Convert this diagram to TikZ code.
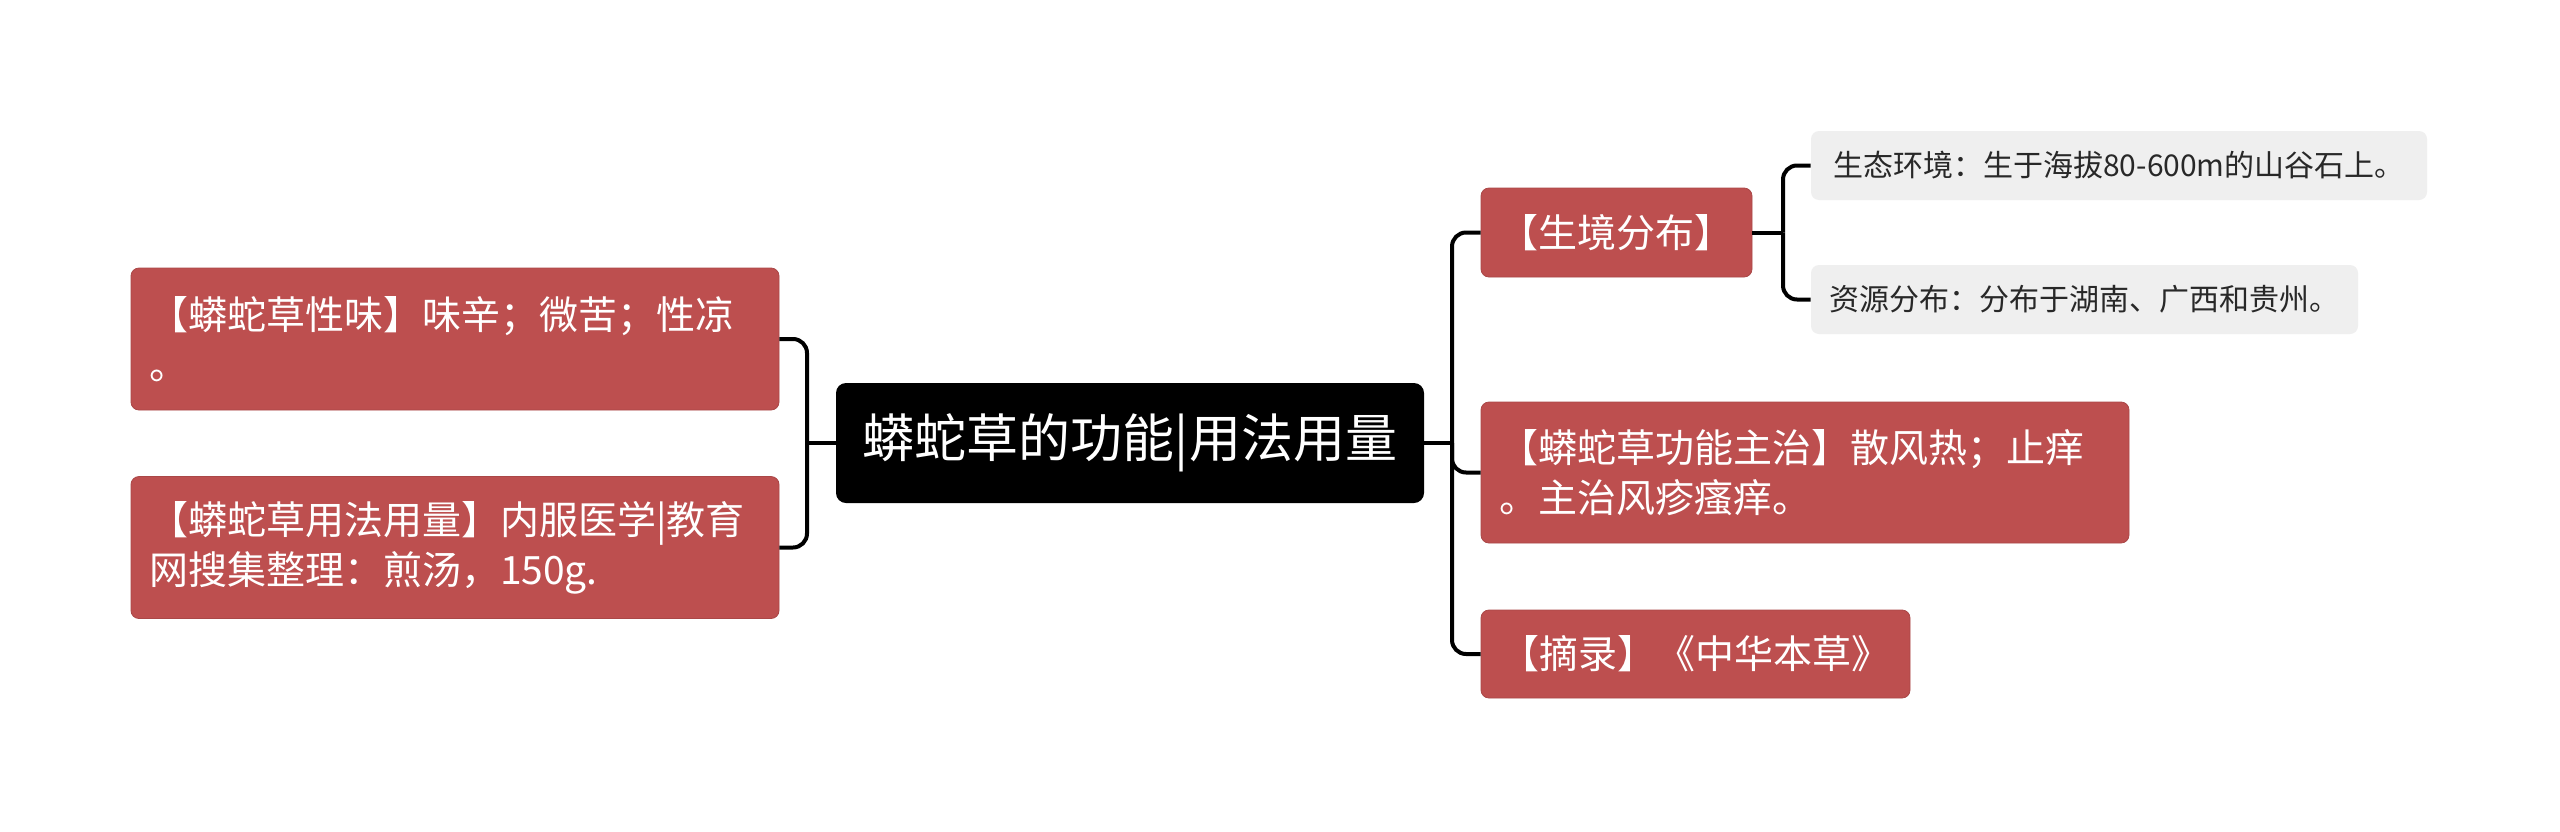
\documentclass[tikz,border=0pt]{standalone}
\usepackage{fontspec}
\newfontfamily\cjk{Noto Sans CJK SC}
\definecolor{boxred}{RGB}{189,79,79}
\definecolor{boxgrey}{RGB}{239,239,239}
\definecolor{greytext}{RGB}{40,40,40}
\tikzset{
  conn/.style={line width=2pt, black, rounded corners=7pt},
  centralbox/.style={fill=black, text=white, rounded corners=5pt, inner sep=0pt,
    font={\cjk\fontsize{26pt}{32pt}\selectfont}},
  redbox/.style={fill=boxred, draw=boxred!90!black, line width=0.4pt, text=white, rounded corners=4pt,
    inner ysep=0pt, inner xsep=9pt, align=left,
    font={\cjk\fontsize{19.5pt}{25pt}\selectfont}},
  greybox/.style={fill=boxgrey, text=greytext, rounded corners=4pt, inner sep=0pt,
    font={\cjk\fontsize{15pt}{19pt}\selectfont}}
}
\begin{document}
\begin{tikzpicture}[x=0.5pt,y=-0.5pt]
\useasboundingbox[fill=white] (0,0) rectangle (2560,831);
% central
\node[centralbox, minimum width=294pt, minimum height=60pt] (c) at (1130,443) {蟒蛇草的功能|用法用量};
% left
\node[redbox, text width=306pt, minimum height=71pt] (l1) at (455,339) {【蟒蛇草性味】味辛；微苦；性凉\\。};
\node[redbox, text width=306pt, minimum height=71pt] (l2) at (455,547.5) {【蟒蛇草用法用量】内服医学|教育\\网搜集整理：煎汤，150g.};
% right
\node[redbox, align=center, minimum width=135.5pt, minimum height=44.5pt] (h) at (1616.5,232.5) {【生境分布】};
\node[redbox, text width=306pt, minimum height=70.5pt] (f) at (1805,472.5) {【蟒蛇草功能主治】散风热；止痒\\。主治风疹瘙痒。};
\node[redbox, align=center, minimum width=214.5pt, minimum height=44pt] (e) at (1695.5,654) {【摘录】《中华本草》};
% grey
\node[greybox, minimum width=308pt, minimum height=34.5pt] (g1) at (2119,165.5) {生态环境：生于海拔80-600m的山谷石上。};
\node[greybox, minimum width=273.5pt, minimum height=34.5pt] (g2) at (2084.5,299.5) {资源分布：分布于湖南、广西和贵州。};
% connector junctions
\coordinate (jl) at (807,443);
\coordinate (jr) at (1452,443);
\coordinate (jh) at (1783,232.5);
% left connectors
\draw[line width=2pt] (c.west) -- (jl);
\draw[conn] (jl) |- (l1.east);
\draw[conn] (jl) |- (l2.east);
% right connectors
\draw[line width=2pt] (c.east) -- (jr);
\draw[conn] (jr) |- (h.west);
\draw[conn] (jr) |- (f.west);
\draw[conn] (jr) |- (e.west);
% sub connectors
\draw[line width=2pt] (h.east) -- (jh);
\draw[conn] (jh) |- (g1.west);
\draw[conn] (jh) |- (g2.west);
\end{tikzpicture}
\end{document}
